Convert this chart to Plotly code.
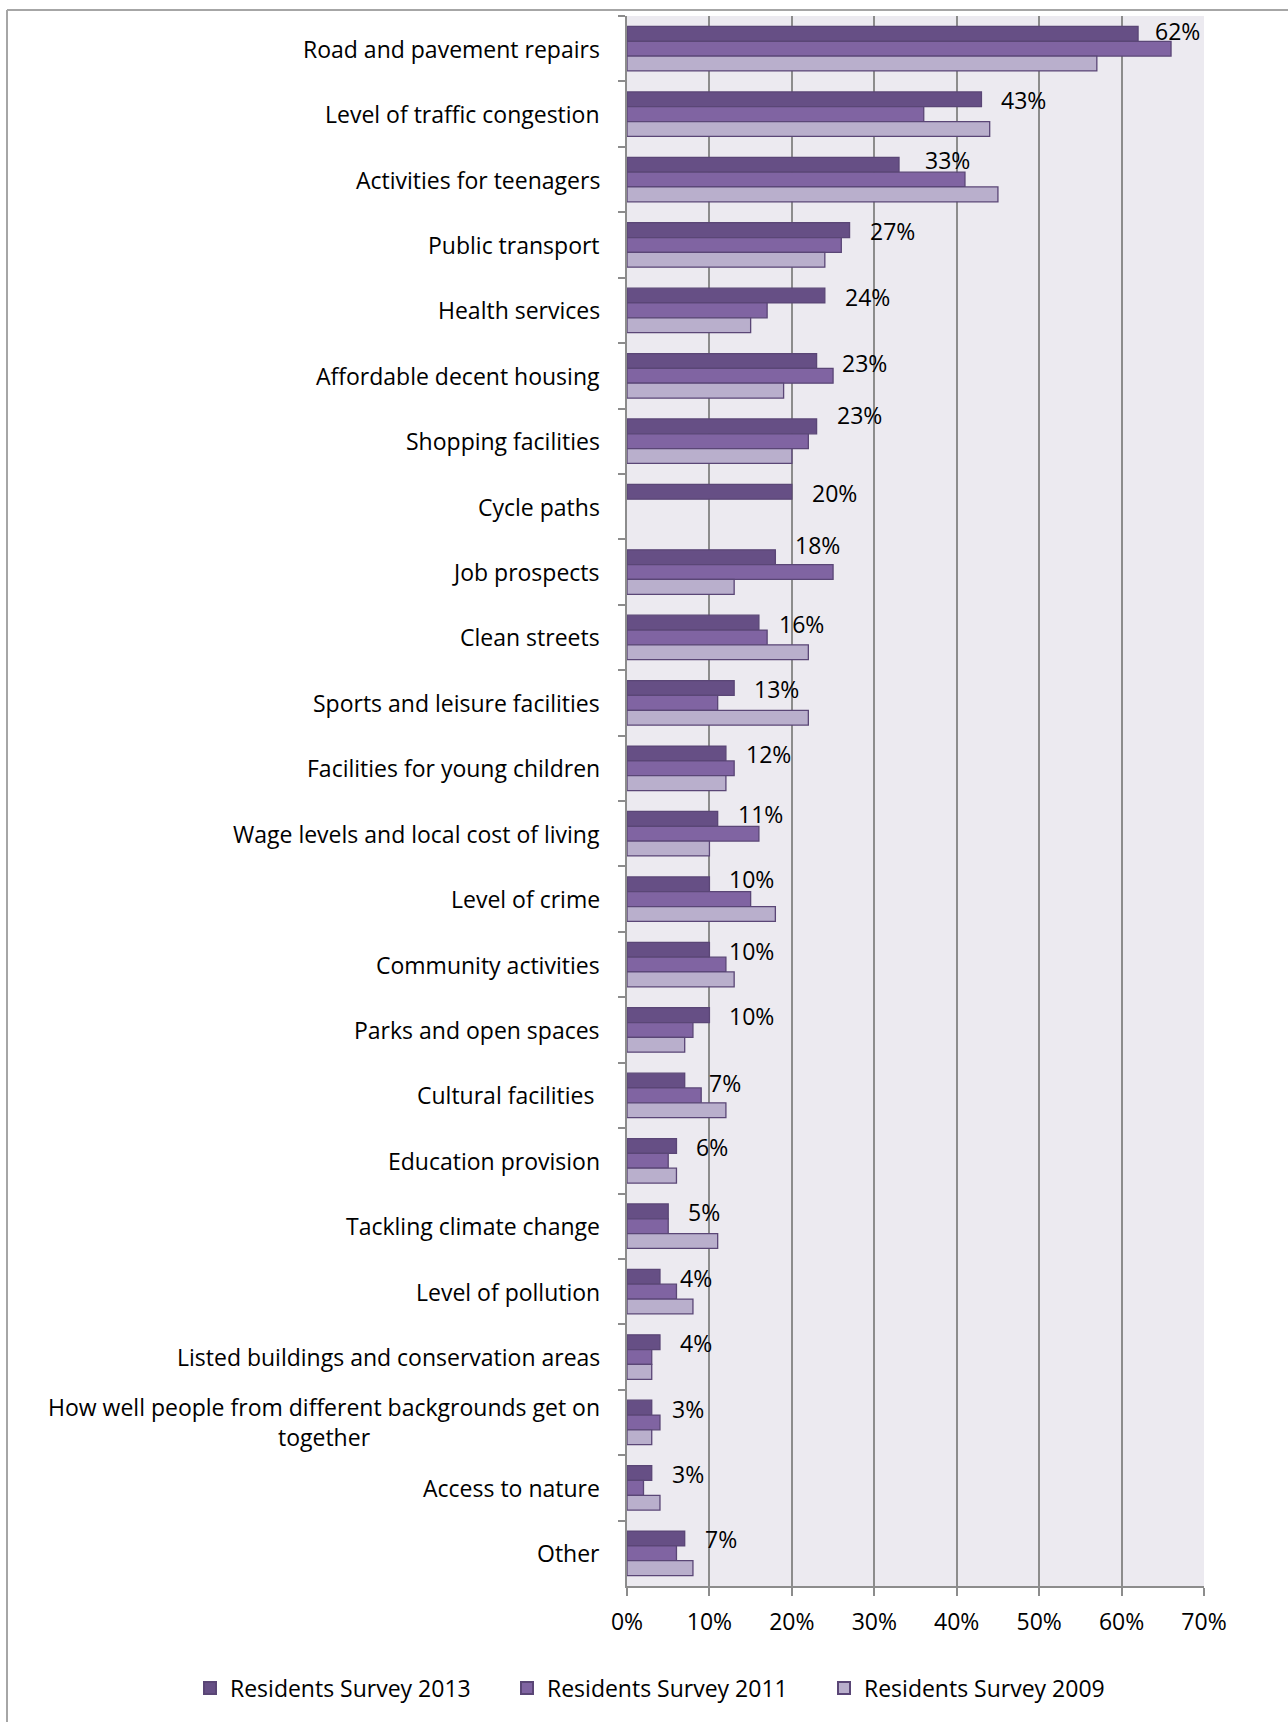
import plotly.graph_objects as go

# Survey categories, top to bottom
categories = [
    "Road and pavement repairs",
    "Level of traffic congestion",
    "Activities for teenagers",
    "Public transport",
    "Health services",
    "Affordable decent housing",
    "Shopping facilities",
    "Cycle paths",
    "Job prospects",
    "Clean streets",
    "Sports and leisure facilities",
    "Facilities for young children",
    "Wage levels and local cost of living",
    "Level of crime",
    "Community activities",
    "Parks and open spaces",
    "Cultural facilities ",
    "Education provision",
    "Tackling climate change",
    "Level of pollution",
    "Listed buildings and conservation areas",
    "How well people from different backgrounds get on<br>together",
    "Access to nature",
    "Other",
]

series_names = ["Residents Survey 2013", "Residents Survey 2011", "Residents Survey 2009"]

survey_2013 = [62, 43, 33, 27, 24, 23, 23, 20, 18, 16, 13, 12, 11, 10, 10, 10, 7, 6, 5, 4, 4, 3, 3, 7]
survey_2011 = [66, 36, 41, 26, 17, 25, 22, None, 25, 17, 11, 13, 16, 15, 12, 8, 9, 5, 5, 6, 3, 4, 2, 6]
survey_2009 = [57, 44, 45, 24, 15, 19, 20, None, 13, 22, 22, 12, 10, 18, 13, 7, 12, 6, 11, 8, 3, 3, 4, 8]

x_ticks = [0, 10, 20, 30, 40, 50, 60, 70]

# Styling
FONT = "Open Sans"
FONT_SIZE = 23
colors = ["#664F85", "#8064A2", "#B9AFCC"]
outline = "#5A4676"
W, H = 1288, 1722
ML, MR, MT, MB = 627, 84, 16, 136
BARGAP = 0.32
plot_w = W - ML - MR
plot_h = H - MT - MB

fig = go.Figure()
for name, vals, col in zip(series_names, [survey_2013, survey_2011, survey_2009], colors):
    fig.add_trace(go.Bar(
        y=[c for c in categories],
        x=vals,
        name=name,
        orientation="h",
        marker=dict(color=col, line=dict(color=outline, width=1.3)),
        hoverinfo="skip",
    ))

# Value labels for the 2013 series (dx, dy in px: right / down)
nudges = {0: (15, -3), 2: (24, -5), 5: (23, 2), 6: (18, -11), 8: (18, -12),
          12: (18, -5), 13: (18, -5), 16: (22, 2)}
band = plot_h / len(categories)
bar_thick = band * (1 - BARGAP) / 3
annotations = []
for i, (cat, v) in enumerate(zip(categories, survey_2013)):
    dx, dy = nudges.get(i, (18, 1))
    annotations.append(dict(
        x=v, y=cat, xref="x", yref="y", text=f"{v}%", showarrow=False,
        xanchor="left", yanchor="middle", xshift=dx, yshift=bar_thick - dy,
        font=dict(family=FONT, size=FONT_SIZE, color="#000000"),
    ))

# Category labels, centred when they wrap onto two lines
for cat in categories:
    label = cat[:-1] + "\u00a0" if cat.endswith(" ") else cat
    annotations.append(dict(
        x=0, y=cat, xref="paper", yref="y", text=label, showarrow=False,
        xanchor="right", yanchor="middle", align="center", xshift=-25,
        font=dict(family=FONT, size=FONT_SIZE, color="#000000"),
    ))

# Chart frame (left and top edges)
fx = (7 - ML) / plot_w
fy_top = 1 + (MT - 10) / plot_h
fy_bot = -(MB) / plot_h
shapes = [
    dict(type="line", xref="paper", yref="paper", x0=fx, x1=(W - ML) / plot_w + 0.01,
         y0=fy_top, y1=fy_top, line=dict(color="#A6A6A6", width=2), layer="above"),
    dict(type="line", xref="paper", yref="paper", x0=fx, x1=fx,
         y0=fy_top, y1=fy_bot - 0.01, line=dict(color="#A6A6A6", width=2), layer="above"),
]

fig.update_layout(
    width=W, height=H,
    margin=dict(l=ML, r=MR, t=MT, b=MB),
    paper_bgcolor="#FFFFFF",
    plot_bgcolor="#ECEAF0",
    barmode="group",
    bargap=BARGAP,
    bargroupgap=0,
    font=dict(family=FONT, size=FONT_SIZE, color="#000000"),
    annotations=annotations,
    shapes=shapes,
    showlegend=True,
    legend=dict(
        orientation="h",
        x=(190 - ML) / plot_w, xanchor="left",
        y=-(1688 - (H - MB)) / plot_h, yanchor="middle",
        font=dict(family=FONT, size=FONT_SIZE, color="#000000"),
        entrywidth=272, entrywidthmode="pixels",
        bgcolor="rgba(0,0,0,0)",
        traceorder="normal",
        itemsizing="constant",
    ),
    xaxis=dict(
        range=[0, 70],
        tickvals=x_ticks,
        ticktext=[f"{t}%" for t in x_ticks],
        showgrid=True, gridcolor="#8C8C8C", gridwidth=2,
        showline=True, linecolor="#8C8C8C", linewidth=2,
        ticks="outside", ticklen=8, tickwidth=2, tickcolor="#8C8C8C",
        ticklabelstandoff=6,
        zeroline=False,
        tickfont=dict(family=FONT, size=FONT_SIZE, color="#000000"),
        fixedrange=True,
    ),
    yaxis=dict(
        type="category",
        categoryorder="array", categoryarray=categories,
        autorange="reversed",
        showticklabels=False,
        showline=True, linecolor="#8C8C8C", linewidth=2,
        ticks="outside", tickson="boundaries", ticklen=7, tickwidth=2, tickcolor="#8C8C8C",
        showgrid=False, zeroline=False,
        fixedrange=True,
    ),
)

fig.write_html("out.html")
